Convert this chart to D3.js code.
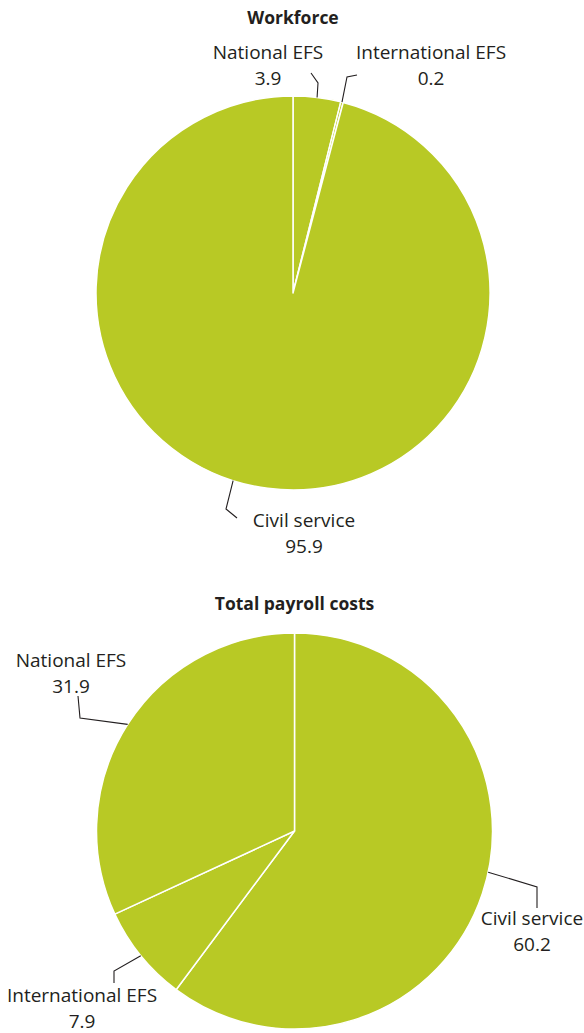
<!DOCTYPE html>
<html>
<head>
<meta charset="utf-8">
<script src="https://cdn.jsdelivr.net/npm/d3@7"></script>
<style>
  html, body { margin: 0; padding: 0; background: #fff; }
  svg { display: block; }
  text { font-family: "Open Sans", "Noto Sans", sans-serif; fill: #231f20; }
</style>
</head>
<body>
<svg id="chart" width="584" height="1033"></svg>
<script>
// Shares (%) by staff category
const chartTitles = ["Workforce", "Total payroll costs"];
const workforceCategories = ["National EFS", "International EFS", "Civil service"];
const workforceValues = [3.9, 0.2, 95.9];
const payrollCategories = ["Civil service", "International EFS", "National EFS"];
const payrollValues = [60.2, 7.9, 31.9];

// Layout of each pie: centre, radius, title baseline and label placement
// (label / elbow / end offsets are relative to the pie centre;
//  anchor is the angle in degrees where the leader meets the rim, null = slice middle)
const pieLayouts = [
  {
    cx: 293, cy: 293, r: 197, titleY: 24,
    labels: [
      { text: [-25, -234], anchor: null,  elbow: [25, -210],  end: [18, -220] },
      { text: [138, -234], anchor: null,  elbow: [54, -216],  end: [64, -218] },
      { text: [11, 234],   anchor: 197.7, elbow: [-67, 216],  end: [-56, 225] }
    ]
  },
  {
    cx: 294.5, cy: 831, r: 198, titleY: 610,
    labels: [
      { text: [237.5, 94],   anchor: 102,  elbow: [242.5, 56],   end: [242.5, 77] },
      { text: [-212.5, 171], anchor: null, elbow: [-180.5, 140], end: [-180.5, 152] },
      { text: [-223.5, -164], anchor: null, elbow: [-214.5, -113], end: [-216.5, -135] }
    ]
  }
];

const datasets = [
  { title: chartTitles[0], categories: workforceCategories, values: workforceValues },
  { title: chartTitles[1], categories: payrollCategories, values: payrollValues }
];

const fill = "#b8c925";
const svg = d3.select("#chart");

const pie = d3.pie().sort(null).value(d => d.value).startAngle(0).endAngle(2 * Math.PI);

datasets.forEach((ds, i) => {
  const lay = pieLayouts[i];
  const rows = ds.categories.map((c, j) => ({ category: c, value: ds.values[j] }));
  const arcs = pie(rows);
  const arc = d3.arc().innerRadius(0).outerRadius(lay.r);

  // title
  svg.append("text")
    .attr("x", lay.cx).attr("y", lay.titleY)
    .attr("text-anchor", "middle")
    .attr("font-size", 17.5).attr("font-weight", "bold")
    .text(ds.title);

  const g = svg.append("g").attr("transform", `translate(${lay.cx},${lay.cy})`);

  g.selectAll("path.slice")
    .data(arcs)
    .join("path")
    .attr("class", "slice")
    .attr("d", arc)
    .attr("fill", fill)
    .attr("stroke", "#fff")
    .attr("stroke-width", 1.5)
    .attr("stroke-linejoin", "round");

  // leader lines
  const rimPoint = (a, deg) => {
    const ang = deg == null ? (a.startAngle + a.endAngle) / 2 : deg * Math.PI / 180;
    return [lay.r * Math.sin(ang), -lay.r * Math.cos(ang)];
  };
  g.selectAll("path.leader")
    .data(arcs)
    .join("path")
    .attr("class", "leader")
    .attr("d", (a, j) => {
      const L = lay.labels[j];
      return d3.line()([rimPoint(a, L.anchor), L.elbow, L.end]);
    })
    .attr("fill", "none")
    .attr("stroke", "#231f20")
    .attr("stroke-width", 1.1);

  // labels: category name and value
  const lbl = g.selectAll("text.lbl")
    .data(arcs)
    .join("text")
    .attr("class", "lbl")
    .attr("text-anchor", "middle")
    .attr("font-size", 19)
    .attr("transform", (a, j) => `translate(${lay.labels[j].text[0]},${lay.labels[j].text[1]})`);
  lbl.append("tspan").attr("x", 0).attr("y", 0).text(a => a.data.category);
  lbl.append("tspan").attr("x", 0).attr("y", 25.5).text(a => a.data.value.toFixed(1));
});
</script>
</body>
</html>
